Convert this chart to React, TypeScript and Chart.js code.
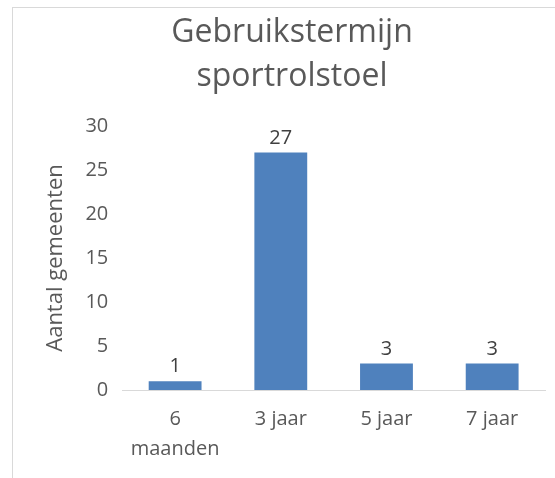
import React, { useEffect, useRef } from "react";
import { Chart, registerables } from "chart.js";

Chart.register(...registerables);

const titleLines = ["Gebruikstermijn", "sportrolstoel"];
const yAxisTitle = "Aantal gemeenten";
const categories: (string | string[])[] = [["6", "maanden"], "3 jaar", "5 jaar", "7 jaar"];
const values = [1, 27, 3, 3];
const yMin = 0;
const yMax = 30;
const yStep = 5;

const FONT = "'Open Sans', 'DejaVu Sans', sans-serif";
const TEXT = "#595959";

const dataLabelPlugin = {
  id: "dataLabels",
  afterDatasetsDraw(chart: any) {
    const ctx = chart.ctx;
    const meta = chart.getDatasetMeta(0);
    ctx.save();
    ctx.font = `20px ${FONT}`;
    ctx.fillStyle = "#404040";
    ctx.textAlign = "center";
    ctx.textBaseline = "middle";
    meta.data.forEach((el: any, i: number) => {
      ctx.fillText(String(chart.data.datasets[0].data[i]), el.x, el.y - 14.5);
    });
    ctx.restore();
  },
};

export default function App() {
  const ref = useRef<HTMLCanvasElement>(null);
  useEffect(() => {
    if (!ref.current) return;
    const chart = new Chart(ref.current, {
      type: "bar",
      data: {
        labels: categories,
        datasets: [
          {
            data: values,
            backgroundColor: "#4f81bd",
            borderWidth: 0,
            barPercentage: 0.5,
            categoryPercentage: 1,
          },
        ],
      },
      options: {
        responsive: false,
        animation: false,
        layout: { padding: { left: 39, right: 10, top: 0, bottom: 0 } },
        plugins: {
          legend: { display: false },
          tooltip: { enabled: false },
          title: {
            display: true,
            text: titleLines,
            color: TEXT,
            font: { family: FONT, size: 32, weight: "normal", lineHeight: 1.375 },
            padding: { top: 11, bottom: 27 },
          },
        },
        scales: {
          x: {
            grid: { display: false, drawTicks: false },
            border: { display: true, color: "#d9d9d9", width: 1 },
            ticks: {
              color: TEXT,
              font: { family: FONT, size: 20, lineHeight: 1.5 },
              padding: 14,
              maxRotation: 0,
              autoSkip: false,
            },
          },
          y: {
            min: yMin,
            max: yMax,
            grid: { display: false, drawTicks: false },
            border: { display: false },
            ticks: {
              stepSize: yStep,
              color: TEXT,
              font: { family: FONT, size: 20 },
              padding: 14,
            },
            title: {
              display: true,
              text: yAxisTitle,
              color: TEXT,
              font: { family: FONT, size: 22, lineHeight: 1.2 },
              padding: { top: 4, bottom: 2 },
            },
          },
        },
      },
      plugins: [dataLabelPlugin],
    });
    return () => chart.destroy();
  }, []);

  return (
    <div
      style={{
        position: "fixed",
        left: 0,
        top: 0,
        width: 555,
        height: 478,
        overflow: "hidden",
        background: "#ffffff",
      }}
    >
      <div
        style={{
          position: "absolute",
          left: 12,
          top: 7,
          width: 700,
          height: 700,
          borderLeft: "1px solid #d9d9d9",
          borderTop: "1px solid #d9d9d9",
        }}
      />
      <canvas
        ref={ref}
        width={555}
        height={478}
        style={{ position: "absolute", left: 0, top: 0, width: 555, height: 478 }}
      />
    </div>
  );
}
